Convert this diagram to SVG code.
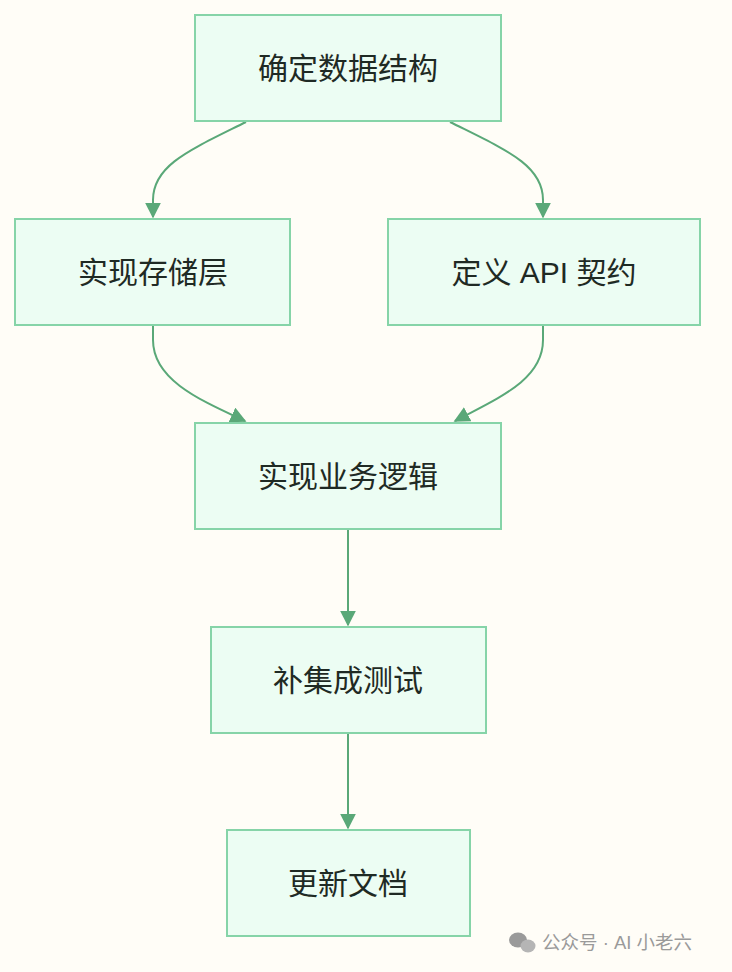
<svg xmlns="http://www.w3.org/2000/svg" width="732" height="972" viewBox="0 0 732 972">
<style>
.n rect{fill:#ecfdf3;stroke:#86d4a8;stroke-width:2}
.n text{font-family:"Liberation Sans","Noto Sans CJK SC",sans-serif;font-size:30px;fill:#1f2a24;text-anchor:middle;dominant-baseline:central}
.e path{fill:none;stroke:#5aa878;stroke-width:2}
</style>
<defs><marker id="m" viewBox="0 0 10 10" refX="9" refY="5" markerWidth="16" markerHeight="16" markerUnits="userSpaceOnUse" orient="auto"><path d="M0,0L10,5L0,10z" fill="#5aa878"/></marker></defs>
<rect width="732" height="972" fill="#fffdf7"/>
<g class="e">
<path d="M246,122 C190,150 153,165 153,200 L153,217" marker-end="url(#m)"/>
<path d="M450,122 C506,150 543,165 543,200 L543,217" marker-end="url(#m)"/>
<path d="M153,325 L153,340 C153,380 200,400 245,421" marker-end="url(#m)"/>
<path d="M543,325 L543,340 C543,380 498,398 455,421" marker-end="url(#m)"/>
<path d="M348,529 L348,625" marker-end="url(#m)"/>
<path d="M348,733 L348,828" marker-end="url(#m)"/>
</g>
<g id="n1" class="n"><rect x="195" y="15" width="306" height="106"/><text x="348" y="68">确定数据结构</text></g>
<g id="n2" class="n"><rect x="15" y="219" width="275" height="106"/><text x="153" y="272">实现存储层</text></g>
<g id="n3" class="n"><rect x="388" y="219" width="312" height="106"/><text x="544" y="272">定义 API 契约</text></g>
<g id="n4" class="n"><rect x="195" y="423" width="306" height="106"/><text x="348" y="476">实现业务逻辑</text></g>
<g id="n5" class="n"><rect x="211" y="627" width="275" height="106"/><text x="348" y="680">补集成测试</text></g>
<g id="n6" class="n"><rect x="227" y="830" width="243" height="106"/><text x="348" y="883">更新文档</text></g>
<g id="wm" fill="#9a9a9a">
<ellipse cx="518" cy="940" rx="9" ry="7.5"/><ellipse cx="528" cy="946" rx="7.5" ry="6.5" fill="#b5b5b5"/>
<text x="542" y="949" font-family="Liberation Sans,'Noto Sans CJK SC',sans-serif" font-size="18.5">公众号 · AI 小老六</text>
</g>
</svg>
